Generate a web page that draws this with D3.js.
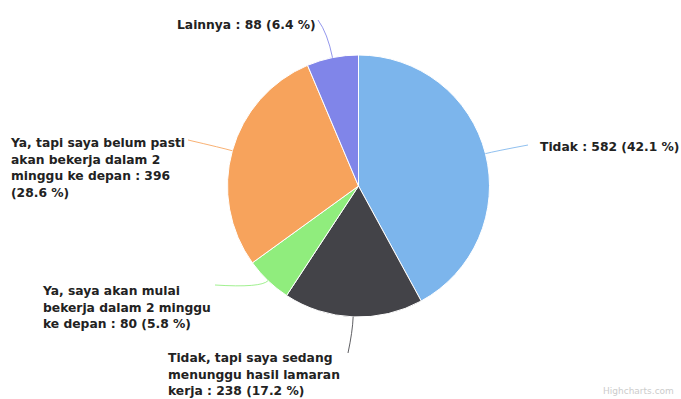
<!DOCTYPE html>
<html><head><meta charset="utf-8">
<script src="https://cdn.jsdelivr.net/npm/d3@7"></script>
<style>html,body{margin:0;padding:0;background:#fff;}svg{display:block;}</style>
</head><body><svg id="c" width="681" height="399"></svg>
<script>
const categories = ["Tidak", "Tidak, tapi saya sedang menunggu hasil lamaran kerja", "Ya, saya akan mulai bekerja dalam 2 minggu ke depan", "Ya, tapi saya belum pasti akan bekerja dalam 2 minggu ke depan", "Lainnya"];
const values = [582, 238, 80, 396, 88];
const colors = ["#7cb5ec", "#434348", "#90ed7d", "#f7a35c", "#8085e9"];

// layout (label anchor positions, connector end points)
const layout = [
  {tx: 540, ty: 151, anchor: "start", cx: 528, cy: 145, ext: 10},
  {tx: 168, ty: 362, anchor: "start", cx: 348, cy: 353, ext: 15},
  {tx: 43,  ty: 295, anchor: "start", cx: 215, cy: 285, ext: 10},
  {tx: 11,  ty: 147, anchor: "start", cx: 188, cy: 140, ext: 10},
  {tx: 177, ty: 29,  anchor: "start", cx: 318, cy: 20, ext: 25}
];

const W = 681, H = 399, cx0 = 358.5, cy0 = 186, R = 131;
const svg = d3.select("#c");
const total = d3.sum(values);
const data = categories.map((c, i) => ({cat: c, val: values[i], color: colors[i], lay: layout[i]}));
const pie = d3.pie().sort(null).value(d => d.val).startAngle(0).endAngle(2 * Math.PI);
const arcs = pie(data);
const arc = d3.arc().innerRadius(0).outerRadius(R);
const g = svg.append("g").attr("transform", `translate(${cx0},${cy0})`);
g.selectAll("path.slice").data(arcs).join("path").attr("class", "slice")
  .attr("d", arc).attr("fill", d => d.data.color).attr("stroke", "#fff").attr("stroke-width", 1);

function polar(a, r) { return [cx0 + r * Math.sin(a), cy0 - r * Math.cos(a)]; }

// connectors
svg.selectAll("path.conn").data(arcs).join("path").attr("class", "conn")
  .attr("d", d => {
    const m = (d.startAngle + d.endAngle) / 2;
    const e = polar(m, R);
    const c = polar(m, R + d.data.lay.ext);
    return `M${d.data.lay.cx},${d.data.lay.cy}Q${c[0]},${c[1]} ${e[0]},${e[1]}`;
  })
  .attr("fill", "none").attr("stroke", d => d.data.color).attr("stroke-width", 1).attr("opacity", 0.85);

// labels
const fmt = d3.format(".1f");
const maxW = 183, lh = 16.5;
arcs.forEach(d => {
  const txt = `${d.data.cat} : ${d.data.val} (${fmt(d.data.val / total * 100)} %)`;
  const t = svg.append("text").attr("x", d.data.lay.tx).attr("y", d.data.lay.ty)
    .attr("text-anchor", d.data.lay.anchor)
    .style("font-family", "'DejaVu Sans', Verdana, sans-serif")
    .style("font-size", "12.3px").style("font-weight", "bold").attr("fill", "#222");
  const words = txt.split(" ");
  let line = [];
  let ts = t.append("tspan").attr("x", d.data.lay.tx).attr("dy", 0);
  words.forEach(w => {
    line.push(w);
    ts.text(line.join(" "));
    if (ts.node().getComputedTextLength() > maxW && line.length > 1) {
      line.pop();
      ts.text(line.join(" "));
      line = [w];
      ts = t.append("tspan").attr("x", d.data.lay.tx).attr("dy", lh).text(w);
    }
  });
});

svg.append("text").attr("x", 603).attr("y", 394).text("Highcharts.com")
  .style("font-family", "'DejaVu Sans', Verdana, sans-serif").style("font-size", "9px").attr("fill", "#ccc");
</script></body></html>
